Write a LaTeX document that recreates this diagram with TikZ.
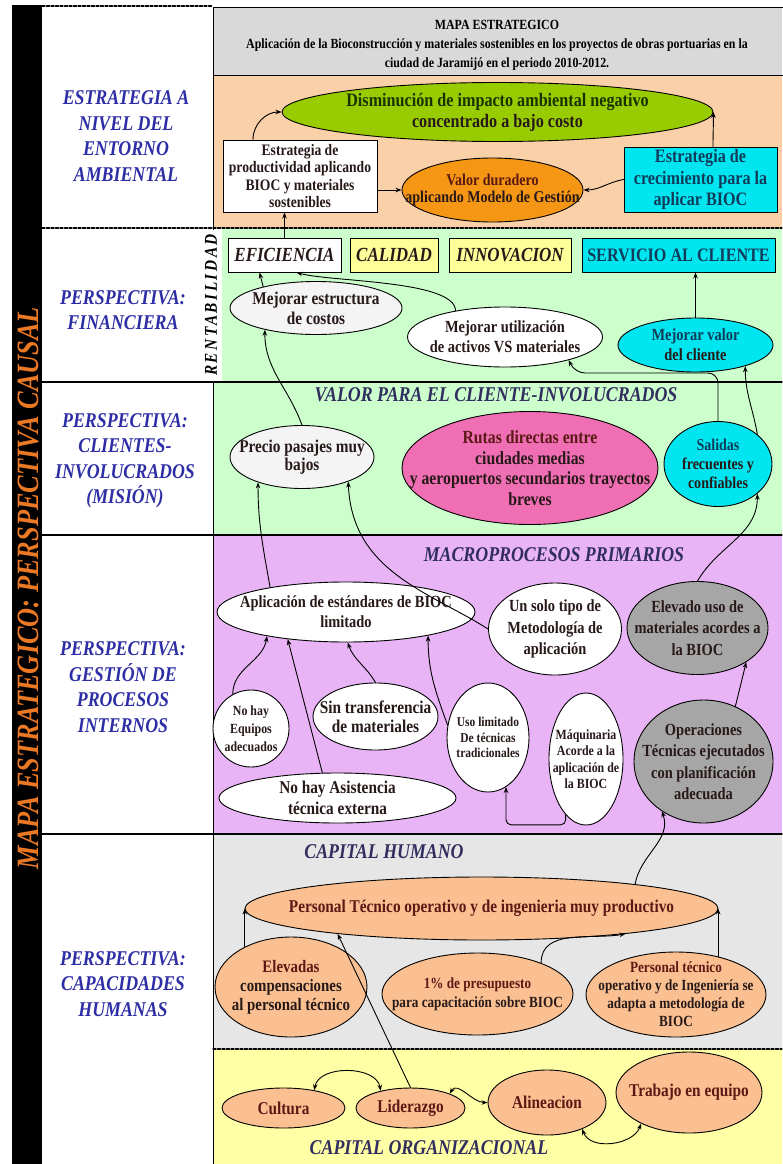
\documentclass[tikz,border=0pt]{standalone}
\usepackage{fontspec}
\setmainfont{Liberation Serif}[FakeStretch=0.85]
\usetikzlibrary{shapes.geometric,arrows.meta}

\definecolor{ink}{RGB}{40,25,25}
\definecolor{marron}{RGB}{90,25,20}
\definecolor{verdeosc}{RGB}{25,50,0}
\definecolor{azulosc}{RGB}{15,60,90}
\definecolor{titulo}{RGB}{50,45,95}
\definecolor{azul}{RGB}{45,45,165}
\definecolor{naranja}{RGB}{235,120,35}
\definecolor{gristit}{RGB}{217,217,217}
\definecolor{melocoton}{RGB}{250,208,168}
\definecolor{verdeclaro}{RGB}{204,255,204}
\definecolor{lila}{RGB}{232,180,245}
\definecolor{grisclaro}{RGB}{230,230,230}
\definecolor{amarillo}{RGB}{255,255,165}
\definecolor{amarillobox}{RGB}{255,255,153}
\definecolor{verdelima}{RGB}{153,204,0}
\definecolor{anaranjado}{RGB}{245,150,20}
\definecolor{cian}{RGB}{0,230,240}
\definecolor{rosa}{RGB}{240,110,180}
\definecolor{grisos}{RGB}{166,166,166}
\definecolor{salmon}{RGB}{250,192,145}
\definecolor{blanquito}{RGB}{244,244,244}

\tikzset{
  flecha/.style={-{Stealth[length=6pt,width=4.5pt]}, line width=0.9pt},
  doble/.style={{Stealth[length=6pt,width=4.5pt]}-{Stealth[length=6pt,width=4.5pt]}, line width=0.9pt},
  rasgo/.style={line width=1.2pt, dash pattern=on 3pt off 1.5pt},
  oval/.style={ellipse, draw, line width=0.9pt, inner sep=0pt},
  caja/.style={rectangle, draw, line width=0.9pt, inner sep=0pt, align=center},
  etq/.style={inner sep=0pt, align=center, text=ink},
  perspectiva/.style={text=azul, align=center, font=\bfseries\itshape\fontsize{21}{25.5}\selectfont},
  seccion/.style={text=titulo, font=\bfseries\itshape\fontsize{21}{24}\selectfont},
}

% one oval: name, centre, width, height, fill, font size, line skip, text
\newcommand{\elip}[8]{%
  \node[oval, fill=#5, minimum width=#3pt, minimum height=#4pt] (#1) at (#2) {};
  \node[etq, font=\bfseries\fontsize{#6}{#7}\selectfont] (#1-t) at (#1) {#8};
}

\begin{document}
\begin{tikzpicture}[x=1pt,y=-1pt,line cap=round]
  \useasboundingbox (0,0) rectangle (782,1164);

  % bands
  \fill[black] (12,5) rectangle (42,1164);
  \fill[gristit] (213,8) rectangle (782,75);
  \fill[melocoton] (213,75) rectangle (782,228);
  \fill[verdeclaro] (222,228) rectangle (782,382);
  \fill[verdeclaro] (213,382) rectangle (782,535);
  \fill[lila] (213,535) rectangle (782,834);
  \fill[grisclaro] (213,834) rectangle (782,1049);
  \fill[amarillo] (213,1049) rectangle (782,1164);
  \draw[line width=1pt] (213,8) rectangle (790,75);
  \draw[rasgo] (42,6) -- (213,6);
  \draw[line width=0.8pt] (213,8) -- (213,1164);
  \draw[rasgo] (42,228) -- (782,228);
  \foreach \y in {382,535,834}
    \draw[line width=1.2pt] (42,\y) -- (782,\y);
  \draw[rasgo] (213,1049) -- (782,1049);
  \fill[white] (200,230) rectangle (222,381);

  % left column
  \node[rotate=90, text=naranja, font=\bfseries\itshape\fontsize{31}{31}\selectfont] (eje) at (28,588) {MAPA ESTRATEGICO: PERSPECTIVA CAUSAL};
  \node[perspectiva] (entorno) at (126,136) {ESTRATEGIA A\\NIVEL DEL\\ENTORNO\\AMBIENTAL};
  \node[perspectiva] (finan) at (123,310) {PERSPECTIVA:\\FINANCIERA};
  \node[perspectiva] (clientes) at (125,461) {PERSPECTIVA:\\CLIENTES-\\INVOLUCRADOS\\(MISIÓN)};
  \node[perspectiva] (procesos) at (123,687) {PERSPECTIVA:\\GESTIÓN DE\\PROCESOS\\INTERNOS};
  \node[perspectiva] (capac) at (123,984) {PERSPECTIVA:\\CAPACIDADES\\HUMANAS};
  \node[rotate=90, font=\bfseries\itshape\fontsize{18}{18}\selectfont\addfontfeature{LetterSpace=14}] (renta) at (211,305) {RENTABILIDAD};

  % header
  \node[etq, text=black, font=\bfseries\fontsize{14}{19}\selectfont] (titulo) at (497,45) {MAPA ESTRATEGICO\\Aplicación de la Bioconstrucción y materiales sostenibles en los proyectos de obras portuarias en la\\ciudad de Jaramijó en el periodo 2010-2012.};

  % entorno ambiental
  \elip{ambiental}{497.5,112}{431}{59}{verdelima}{19}{21}{\color{verdeosc}Disminución de impacto ambiental negativo\\concentrado a bajo costo}
  \node[caja, fill=white, minimum width=154pt, minimum height=72pt, font=\bfseries\fontsize{16}{17.6}\selectfont, text=ink] (productividad) at (300,176) {Estrategia de\\productividad aplicando\\BIOC y materiales\\sostenibles};
  \elip{duradero}{492.5,190}{181}{64}{anaranjado}{16.5}{17.5}{\color{marron}Valor duradero\\aplicando Modelo de Gestión}
  \node[caja, fill=cian, minimum width=153pt, minimum height=65pt, font=\bfseries\fontsize{19}{21.5}\selectfont, text=azulosc] (crecimiento) at (700.5,179.5) {Estrategia de\\crecimiento para la\\aplicar BIOC};

  % financiera
  \node[caja, fill=white, minimum width=113pt, minimum height=34pt, font=\bfseries\itshape\fontsize{20}{22}\selectfont, text=ink] (eficiencia) at (284.5,255) {EFICIENCIA};
  \node[caja, fill=amarillobox, minimum width=88pt, minimum height=34pt, font=\bfseries\itshape\fontsize{20}{22}\selectfont, text=ink] (calidad) at (394,255) {CALIDAD};
  \node[caja, fill=amarillobox, minimum width=122pt, minimum height=34pt, font=\bfseries\itshape\fontsize{20}{22}\selectfont, text=ink] (innovacion) at (510,255) {INNOVACION};
  \node[caja, fill=cian, minimum width=193pt, minimum height=34pt, font=\bfseries\fontsize{19}{22}\selectfont, text=azulosc] (servicio) at (678.5,255) {SERVICIO AL CLIENTE};
  \elip{costos}{316,308}{172}{53}{blanquito}{18}{20}{Mejorar estructura\\de costos}
  \elip{activos}{505,337}{195}{60}{white}{17}{20}{Mejorar utilización\\de activos VS materiales}
  \elip{valorcli}{695.5,345}{155}{54}{cian}{17}{20}{\color{azulosc}Mejorar valor\\del cliente}

  % clientes
  \node[seccion] (valor) at (496,395) {VALOR PARA EL CLIENTE-INVOLUCRADOS};
  \elip{precio}{302,457}{144}{63}{blanquito}{18}{18}{Precio pasajes muy\\bajos}
  \elip{rutas}{530,468}{256}{113}{rosa}{18.5}{20.5}{\color{marron}Rutas directas entre\\ciudades medias\\y aeropuertos secundarios trayectos\\breves}
  \elip{salidas}{718,464}{108}{85}{cian}{16.5}{19}{\color{azulosc}Salidas\\frecuentes y\\confiables}

  % procesos internos
  \node[seccion] (macro) at (554,555) {MACROPROCESOS PRIMARIOS};
  \elip{estandares}{346,612}{258}{60}{white}{17}{20}{Aplicación de estándares de BIOC\\limitado}
  \elip{unsolo}{555,629}{133}{92}{white}{17}{21.5}{Un solo tipo de\\Metodología de\\aplicación}
  \elip{elevado}{697.5,628}{141}{93}{grisos}{17}{21.5}{Elevado uso de\\materiales acordes a\\la BIOC}
  \elip{equipos}{251,728.5}{76}{77}{white}{14}{18}{No hay\\Equipos\\adecuados}
  \elip{transferencia}{375.5,716.5}{125}{67}{white}{18}{19}{Sin transferencia\\de materiales}
  \elip{usolim}{488,737.5}{82}{109}{white}{13.5}{15.5}{Uso limitado\\De técnicas\\tradicionales}
  \elip{maquinaria}{586,759}{74}{132}{white}{14}{16.5}{Máquinaria\\Acorde a la\\aplicación de\\la BIOC}
  \elip{operaciones}{703.5,761.5}{139}{123}{grisos}{17}{21.5}{Operaciones\\Técnicas ejecutados\\con planificación\\adecuada}
  \elip{asistencia}{337.5,798}{237}{50}{white}{18}{21}{No hay Asistencia\\técnica externa}

  % capital humano
  \node[seccion] (humano) at (384,852) {CAPITAL HUMANO};
  \elip{personal}{481.5,908.5}{473}{63}{salmon}{18}{20}{\color{marron}Personal Técnico operativo y de ingenieria muy productivo}
  \elip{compensaciones}{291,987}{152}{100}{salmon}{17.5}{19}{\color{marron}Elevadas\\compensaciones\\al personal técnico}
  \elip{presupuesto}{477.5,994}{191}{82}{salmon}{15.5}{19}{\color{marron}1\% de presupuesto\\para capacitación sobre BIOC}
  \elip{adapta}{676,994.5}{180}{85}{salmon}{15.5}{18}{\color{marron}Personal técnico\\operativo y de Ingeniería se\\adapta a metodología de\\BIOC}

  % capital organizacional
  \elip{cultura}{283.5,1108}{123}{40}{salmon}{18}{20}{\color{marron}Cultura}
  \elip{liderazgo}{410.5,1108}{109}{40}{salmon}{18}{20}{\color{marron}Liderazgo}
  \elip{alineacion}{547,1102.5}{118}{65}{salmon}{18}{20}{\color{marron}Alineacion}
  \elip{trabajo}{689,1092.5}{146}{81}{salmon}{18}{20}{\color{marron}Trabajo en equipo}
  \node[seccion] (organiz) at (429,1148) {CAPITAL ORGANIZACIONAL};

  % connectors
  \draw[flecha] ([xshift=-47pt]productividad.north) to[out=90,in=180] (ambiental.west);
  \draw[flecha] ([xshift=12.5pt]crecimiento.north) to[out=90,in=-90] (ambiental.east);
  \draw[flecha] (productividad.east |- duradero.west) -- (duradero.west);
  \draw[flecha] (crecimiento.west) to[out=190,in=0] (duradero.east);
  \draw[flecha] (eficiencia.north) -- (eficiencia.north |- productividad.south);
  \draw[flecha] (costos.158) -- ([xshift=-25pt]eficiencia.south);
  \draw[flecha] (activos.152) .. controls (455,280) and (330,282) .. ([xshift=12pt]eficiencia.south);
  \draw[flecha] (valorcli.north) -- (valorcli.north |- servicio.south);
  \draw[flecha] (precio.north) to[out=110,in=-90] (costos.203);
  \draw[flecha, rounded corners=10pt] (salidas.north) |- (575,373) -- (activos.-20);
  \draw[flecha] (salidas.37) to[out=100,in=-90] (valorcli.-23);
  \draw[flecha] (elevado.north) to[out=60,in=-90] (salidas.-37);
  \draw[flecha] (estandares.162) to[out=100,in=-90] (precio.210);
  \draw[flecha] (unsolo.west) .. controls (430,592) and (352,572) .. (precio.-28);
  \draw[flecha] (equipos.118) to[out=90,in=-100] (estandares.197);
  \draw[flecha] (asistencia.121) -- (estandares.205);
  \draw[flecha] (transferencia.north) to[out=120,in=-70] (estandares.-87);
  \draw[flecha] (usolim.163) to[out=110,in=-90] (estandares.-16);
  \draw[flecha, rounded corners=5pt] (maquinaria.250) -- ++(0,10) -| (usolim.-70);
  \draw[flecha] (operaciones.60) -- (elevado.-35);
  \draw[flecha] (personal.9) to[out=80,in=-70] (operaciones.230);
  \draw[flecha] (compensaciones.139) -- (compensaciones.139 |- personal.west);
  \draw[flecha] (adapta.42) -- (adapta.42 |- personal.east);
  \draw[flecha] (presupuesto.26) to[out=90,in=190] (personal.-10);
  \draw[flecha] (liderazgo.north) -- (personal.190);
  \draw[doble] (cultura.30) to[out=80,in=100] (liderazgo.150);
  \draw[doble] (liderazgo.20) to[out=60,in=180] (alineacion.west);
  \draw[doble] (alineacion.-37) to[out=-70,in=-110] (trabajo.213);
\end{tikzpicture}
\end{document}
